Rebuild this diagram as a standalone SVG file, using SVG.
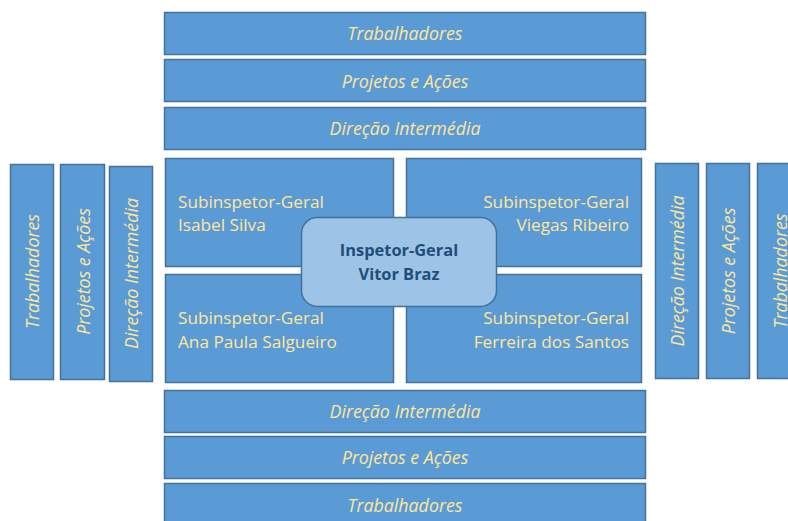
<svg xmlns="http://www.w3.org/2000/svg" width="788" height="521" viewBox="0 0 788 521">
<style>
.bar{fill:#5B9BD5;stroke:#41719C;stroke-width:1.5}
.lbl{font-family:"Open Sans","Liberation Sans",sans-serif;font-style:italic;font-size:17.8px;fill:#FFE699;text-anchor:middle;dominant-baseline:central}
.sub{font-family:"Open Sans","Liberation Sans",sans-serif;font-size:17.2px;fill:#FFE699}
.ig{fill:#9DC3E6;stroke:#41719C;stroke-width:1.5}
.igt{font-family:"Open Sans","Liberation Sans",sans-serif;font-weight:bold;font-size:16.4px;fill:#1F4E79;text-anchor:middle}
</style>
<rect width="788" height="521" fill="#fff"/>
<g id="top-trab"><rect class="bar" x="164.5" y="12.5" width="481" height="42"/><text class="lbl" x="405" y="33">Trabalhadores</text></g>
<g id="top-proj"><rect class="bar" x="164.5" y="59.5" width="481" height="42"/><text class="lbl" x="405" y="81">Projetos e Ações</text></g>
<g id="top-dir"><rect class="bar" x="164.5" y="107.5" width="481" height="42"/><text class="lbl" x="405" y="128">Direção Intermédia</text></g>
<g id="bot-dir"><rect class="bar" x="164.5" y="390.5" width="481" height="42"/><text class="lbl" x="405" y="411">Direção Intermédia</text></g>
<g id="bot-proj"><rect class="bar" x="164.5" y="436.5" width="481" height="42"/><text class="lbl" x="405" y="457">Projetos e Ações</text></g>
<g id="bot-trab"><rect class="bar" x="164.5" y="483.5" width="481" height="42"/><text class="lbl" x="405" y="505">Trabalhadores</text></g>
<g id="left-trab"><rect class="bar" x="10.5" y="164.5" width="43" height="215"/><text class="lbl" transform="translate(32,271.5) rotate(-90)">Trabalhadores</text></g>
<g id="left-proj"><rect class="bar" x="60.5" y="164.5" width="44" height="215"/><text class="lbl" transform="translate(82.5,271.5) rotate(-90)">Projetos e Ações</text></g>
<g id="left-dir"><rect class="bar" x="109.5" y="166.5" width="43" height="215"/><text class="lbl" transform="translate(131,273.5) rotate(-90)">Direção Intermédia</text></g>
<g id="right-dir"><rect class="bar" x="655.5" y="163.5" width="43" height="215"/><text class="lbl" transform="translate(677,271) rotate(-90)">Direção Intermédia</text></g>
<g id="right-proj"><rect class="bar" x="706.5" y="163.5" width="43" height="215"/><text class="lbl" transform="translate(728,271) rotate(-90)">Projetos e Ações</text></g>
<g id="right-trab"><rect class="bar" x="757.5" y="163.5" width="44" height="215"/><text class="lbl" transform="translate(779.5,271) rotate(-90)">Trabalhadores</text></g>
<g id="sub-isabel"><rect class="bar" x="165.5" y="158.5" width="228" height="108"/><text class="sub" x="178" y="208">Subinspetor-Geral</text><text class="sub" x="178" y="231">Isabel Silva</text></g>
<g id="sub-viegas"><rect class="bar" x="406.5" y="158.5" width="235" height="108"/><text class="sub" x="629" y="208" text-anchor="end">Subinspetor-Geral</text><text class="sub" x="629" y="231" text-anchor="end">Viegas Ribeiro</text></g>
<g id="sub-ana"><rect class="bar" x="165.5" y="274.5" width="228" height="108"/><text class="sub" x="178" y="324">Subinspetor-Geral</text><text class="sub" x="178" y="348">Ana Paula Salgueiro</text></g>
<g id="sub-ferreira"><rect class="bar" x="406.5" y="274.5" width="235" height="108"/><text class="sub" x="629" y="324" text-anchor="end">Subinspetor-Geral</text><text class="sub" x="629" y="348" text-anchor="end">Ferreira dos Santos</text></g>
<g id="inspetor-geral"><rect class="ig" x="301.5" y="217.5" width="195" height="89" rx="16"/><text class="igt" x="399" y="256">Inspetor-Geral</text><text class="igt" x="399" y="280">Vitor Braz</text></g>
<g id="connectors"></g>
</svg>
